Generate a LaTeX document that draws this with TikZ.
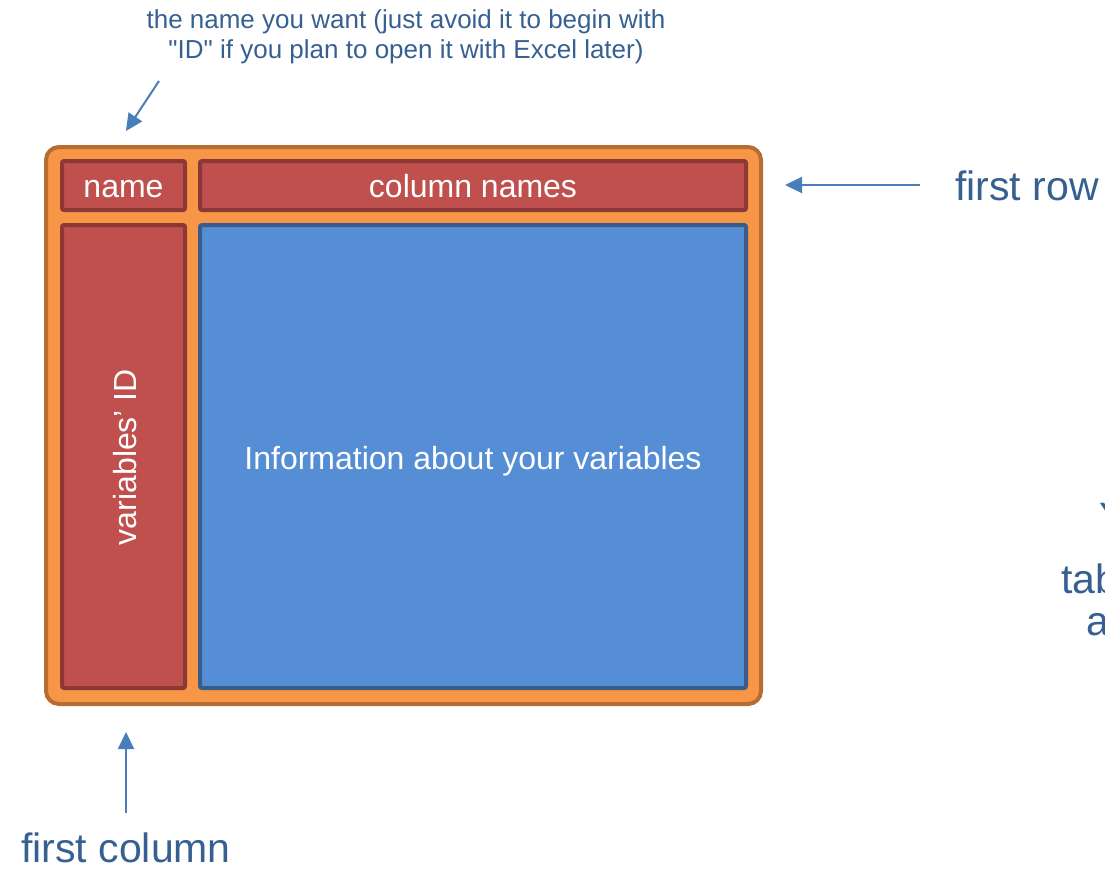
\documentclass[tikz,border=0pt]{standalone}
\usepackage{fontspec}
\setmainfont{Liberation Sans}
% same family without the TeX quote mapping, for straight double quotes
\newfontfamily\plainquotes{Liberation Sans}
\usetikzlibrary{arrows.meta}

\definecolor{tblfill}{HTML}{F79646}
\definecolor{tbledge}{HTML}{B66D31}
\definecolor{hdrfill}{HTML}{C0504D}
\definecolor{hdredge}{HTML}{8C3836}
\definecolor{datfill}{HTML}{558ED5}
\definecolor{datedge}{HTML}{385D8A}
\definecolor{arrowblue}{HTML}{4A7EBB}
\definecolor{notetext}{HTML}{376092}

\tikzset{
  tablebox/.style={draw=tbledge, fill=tblfill, line width=4pt, rounded corners=13pt,
    inner sep=0pt, outer sep=0pt},
  headbox/.style={draw=hdredge, fill=hdrfill, line width=4pt, rounded corners=2pt,
    inner sep=0pt, outer sep=0pt},
  databox/.style={draw=datedge, fill=datfill, line width=4pt, rounded corners=2pt,
    inner sep=0pt, outer sep=0pt},
  boxtext/.style={text=white, inner sep=0pt, font=\fontsize{32}{38}\selectfont},
  note/.style={text=notetext, inner sep=0pt, font=\fontsize{26}{30}\selectfont},
  bignote/.style={text=notetext, inner sep=0pt, font=\fontsize{41}{48}\selectfont},
  pointer/.style={draw=arrowblue, line width=2pt,
    -{Triangle[length=17pt, width=16pt]}},
}

\begin{document}
\begin{tikzpicture}[x=1pt, y=-1pt]
  \useasboundingbox (0,0) rectangle (1105,868);

  % table frame and its four regions
  \node[tablebox, minimum width=715pt, minimum height=557pt] (table) at (403.5,425.5) {};
  \node[headbox, minimum width=123pt, minimum height=49pt] (name) at (123.5,185.5) {};
  \node[headbox, minimum width=546pt, minimum height=49pt] (colnames) at (473,185.5) {};
  \node[headbox, minimum width=123pt, minimum height=463pt] (varid) at (123.5,456.5) {};
  \node[databox, minimum width=546pt, minimum height=463pt] (info) at (473,456.5) {};

  % labels inside the regions
  \node[boxtext, anchor=base] (namelabel) at (123.5,197) {name};
  \node[boxtext, anchor=base] (colnameslabel) at (473,197) {column names};
  \node[boxtext, rotate=90, anchor=base] (varidlabel) at (136,457) {variables’ ID};
  \node[boxtext, anchor=base] (infolabel) at (473,469) {Information about your variables};

  % annotations
  \node[note, anchor=base] (hint1) at (406,28) {the name you want (just avoid it to begin with};
  \node[note, anchor=base] (hint2) at (406,58)
    {{\plainquotes"}ID{\plainquotes"} if you plan to open it with Excel later)};
  \node[bignote, anchor=base west] (firstrow) at (955,200) {first row};
  \node[bignote, anchor=base] (firstcol) at (126,862) {first column};

  % side note running off the right edge
  \begin{scope}
    \clip (0,0) rectangle (1105,868);
    \node[bignote, anchor=base west] (side1) at (1099,531) {Y};
    \node[bignote, anchor=base west] (side2) at (1061,593) {tab};
    \node[bignote, anchor=base west] (side3) at (1086.5,635) {a};
  \end{scope}

  % pointers
  \coordinate (hinttail) at (159,81);
  \coordinate (hinttip) at (126,131);
  \coordinate (rowtail) at (920,185);
  \coordinate (rowtip) at (785,185);
  \coordinate (coltail) at (126,813);
  \coordinate (coltip) at (126,732);
  \draw[pointer] (hinttail) -- (hinttip);
  \draw[pointer] (rowtail) -- (rowtip);
  \draw[pointer] (coltail) -- (coltip);
\end{tikzpicture}
\end{document}
